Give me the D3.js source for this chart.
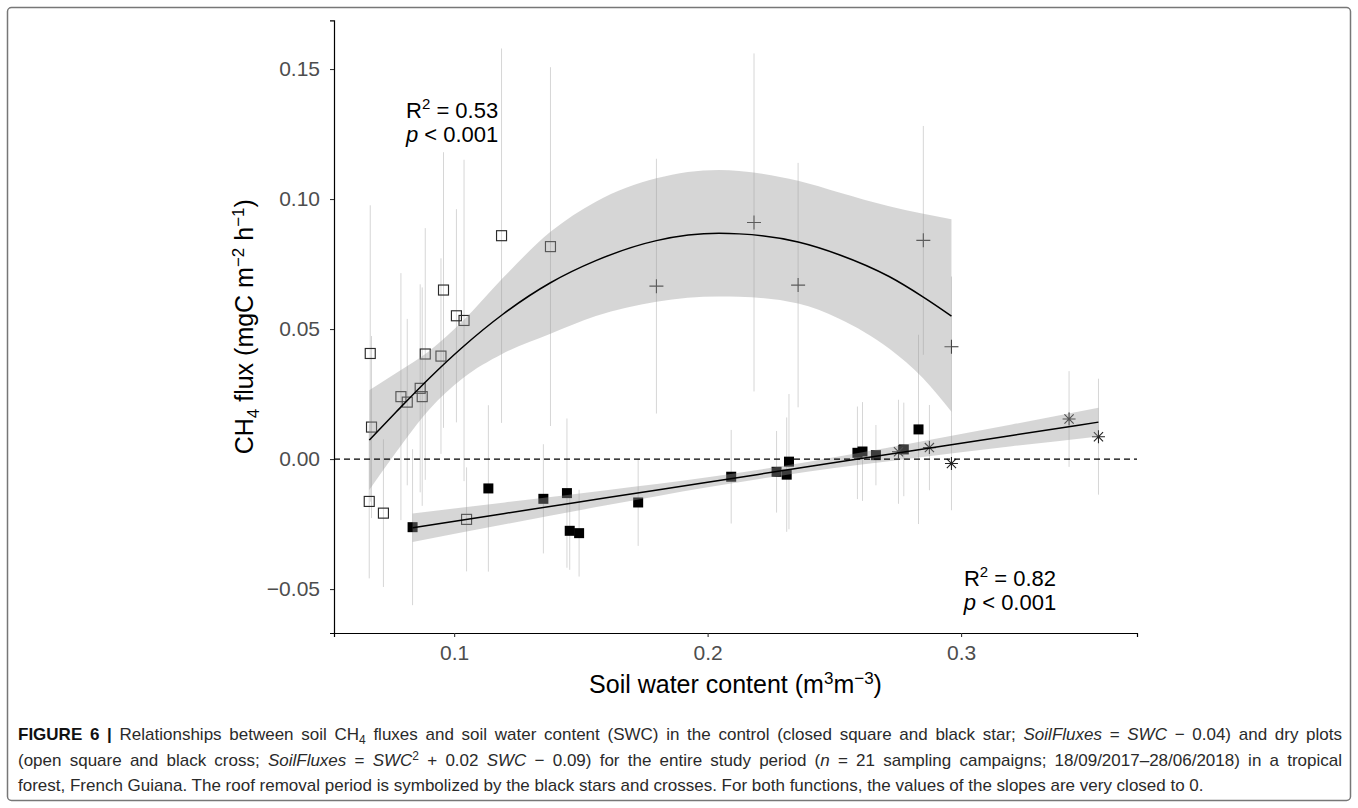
<!DOCTYPE html>
<html><head><meta charset="utf-8">
<script src="https://cdn.jsdelivr.net/npm/d3@7"></script>
<style>
html,body{margin:0;padding:0;background:#fff;}
svg{display:block;}
</style>
</head><body>
<svg id="chart" width="1358" height="808"></svg>
<script>
// ---------- DATA ----------
// Dry plots, before roof removal (open squares)
const dryOpenSWC  = [0.0669,0.0886,0.0948,0.0958,0.1009,0.1039,0.1187,0.1380,0.0866,0.0790,0.0815,0.0874,0.0674,0.0665,0.0721,0.1049];
const dryOpenFlux = [0.0406,0.0404,0.0396,0.0650,0.0551,0.0533,0.0859,0.0817,0.0272,0.0240,0.0219,0.0240,0.0123,-0.0163,-0.0208,-0.0232];
const dryOpenSE   = [0.0570,0.0484,0.0376,0.0530,0.0410,0.0618,0.0720,0.0690,0.0400,0.0475,0.0320,0.0420,0.0350,0.0296,0.0284,0.0200];
// Dry plots, roof removal period (crosses)
const dryCrossSWC  = [0.1798,0.2183,0.2357,0.2851,0.2962];
const dryCrossFlux = [0.0665,0.0910,0.0669,0.0841,0.0432];
const dryCrossSE   = [0.0490,0.0650,0.0470,0.0440,0.0270];
// Control plots, before roof removal (closed squares)
const ctrlSqSWC  = [0.0836,0.1135,0.1352,0.1445,0.1456,0.1493,0.1726,0.2093,0.2272,0.2312,0.2321,0.2591,0.2611,0.2664,0.2774,0.2832];
const ctrlSqFlux = [-0.0262,-0.0113,-0.0153,-0.0131,-0.0276,-0.0285,-0.0167,-0.0068,-0.0049,-0.0060,-0.0010,0.0024,0.0029,0.0015,0.0037,0.0114];
const ctrlSqSE   = [0.0300,0.0320,0.0210,0.0287,0.0150,0.0167,0.0167,0.0180,0.0157,0.0220,0.0260,0.0178,0.0190,0.0116,0.0180,0.0364];
// Control plots, roof removal period (stars)
const ctrlStarSWC  = [0.2753,0.2875,0.2962,0.3426,0.3542];
const ctrlStarFlux = [0.0028,0.0044,-0.0017,0.0154,0.0086];
const ctrlStarSE   = [0.0200,0.0164,0.0180,0.0184,0.0223];
// Fitted curves and confidence bands
const dryFitSWC  = [0.0665,0.077,0.0901,0.1033,0.1191,0.138,0.1559,0.1798,0.2045,0.2124,0.2357,0.2519,0.2716,0.2851,0.2962];
const dryFitFlux = [0.0073,0.0180,0.0310,0.0430,0.0556,0.0678,0.0763,0.0840,0.0868,0.0866,0.0835,0.0786,0.0702,0.0623,0.0550];
const dryFitLo   = [-0.0119,0.0025,0.0190,0.0310,0.0405,0.0482,0.0550,0.0605,0.0625,0.0624,0.0598,0.0540,0.0425,0.0310,0.0182];
const dryFitHi   = [0.0265,0.0330,0.0415,0.0530,0.0695,0.0874,0.0990,0.1080,0.1112,0.1108,0.1070,0.1025,0.0972,0.0943,0.0922];
const ctrlFitSWC  = [0.0836,0.12,0.16,0.20,0.24,0.28,0.32,0.3542];
const ctrlFitFlux = [-0.0264,-0.0209,-0.0149,-0.0089,-0.0029,0.0031,0.0091,0.0142];
const ctrlFitLo   = [-0.0319,-0.0251,-0.0178,-0.0108,-0.0048,0.0002,0.0049,0.0087];
const ctrlFitHi   = [-0.0209,-0.0167,-0.0120,-0.0070,-0.0010,0.0060,0.0133,0.0197];
// Axes
const xTicks = [0.1,0.2,0.3];
const xTickLabels = ["0.1","0.2","0.3"];
const yTicks = [-0.05,0,0.05,0.10,0.15];
const yTickLabels = ["\u22120.05","0.00","0.05","0.10","0.15"];
const xDomain = [0.0526,0.3694];
const yDomain = [-0.0669,0.1687];
// Annotations
const annLabels = [["0.53","0.001"],["0.82","0.001"]];
const annSWC = [0.0992,0.3193];
const annFluxR = [0.1312,-0.0488];
const annFluxP = [0.1220,-0.0580];

// ---------- DRAWING ----------
const FONT = "'Liberation Sans', Arial, Helvetica, sans-serif";
const svg = d3.select("#chart");
svg.append("rect").attr("x",7.5).attr("y",7.5).attr("width",1343).attr("height",793)
  .attr("rx",4).attr("fill","none").attr("stroke","#777").attr("stroke-width",1.5);

const x = d3.scaleLinear().domain(xDomain).range([334,1137]);
const y = d3.scaleLinear().domain(yDomain).range([633,20.4]);

const zip = (xs,ys,ss)=>xs.map((v,i)=>({x:v,y:ys[i],se:ss?ss[i]:0}));
const dryOpen = zip(dryOpenSWC,dryOpenFlux,dryOpenSE);
const dryCross = zip(dryCrossSWC,dryCrossFlux,dryCrossSE);
const ctrlSq = zip(ctrlSqSWC,ctrlSqFlux,ctrlSqSE);
const ctrlStar = zip(ctrlStarSWC,ctrlStarFlux,ctrlStarSE);
const allPts = [...dryOpen,...dryCross,...ctrlSq,...ctrlStar];

// error bars
svg.append("g").selectAll("line").data(allPts).join("line")
  .attr("x1",d=>x(d.x)).attr("x2",d=>x(d.x))
  .attr("y1",d=>y(d.y-d.se)).attr("y2",d=>y(d.y+d.se))
  .attr("stroke","#d6d6d6").attr("stroke-width",1);

// points
const gp = svg.append("g");
gp.selectAll("rect.open").data(dryOpen).join("rect").attr("class","open")
  .attr("x",d=>x(d.x)-5).attr("y",d=>y(d.y)-5).attr("width",10).attr("height",10)
  .attr("fill","none").attr("stroke","#2a2a2a").attr("stroke-width",1.15);
gp.selectAll("rect.closed").data(ctrlSq).join("rect").attr("class","closed")
  .attr("x",d=>x(d.x)-5).attr("y",d=>y(d.y)-5).attr("width",10).attr("height",10)
  .attr("fill","#000");
gp.selectAll("path.cross").data(dryCross).join("path").attr("class","cross")
  .attr("transform",d=>`translate(${x(d.x)},${y(d.y)})`)
  .attr("d","M-7,0H7M0,-7V7").attr("stroke","#333").attr("stroke-width",1.1).attr("fill","none");
gp.selectAll("path.star").data(ctrlStar).join("path").attr("class","star")
  .attr("transform",d=>`translate(${x(d.x)},${y(d.y)})`)
  .attr("d","M-6.5,0H6.5M0,-6.5V6.5M-4.6,-4.6L4.6,4.6M-4.6,4.6L4.6,-4.6")
  .attr("stroke","#222").attr("stroke-width",1.1).attr("fill","none");

// bands & fits
function fitData(xs,f,lo,hi){return xs.map((v,i)=>({x:v,f:f[i],lo:lo[i],hi:hi[i]}));}
const dryFit = fitData(dryFitSWC,dryFitFlux,dryFitLo,dryFitHi);
const ctrlFit = fitData(ctrlFitSWC,ctrlFitFlux,ctrlFitLo,ctrlFitHi);
const area = d3.area().x(d=>x(d.x)).y0(d=>y(d.lo)).y1(d=>y(d.hi)).curve(d3.curveMonotoneX);
const line = d3.line().x(d=>x(d.x)).y(d=>y(d.f)).curve(d3.curveMonotoneX);
[dryFit,ctrlFit].forEach(fd=>{
  svg.append("path").datum(fd).attr("d",area).attr("fill","#999").attr("fill-opacity",0.4);
});
[dryFit,ctrlFit].forEach(fd=>{
  svg.append("path").datum(fd).attr("d",line).attr("fill","none").attr("stroke","#000").attr("stroke-width",1.5);
});

// zero line
svg.append("line").attr("x1",x(xDomain[0])).attr("x2",x(xDomain[1]))
  .attr("y1",y(0)).attr("y2",y(0))
  .attr("stroke","#000").attr("stroke-width",1.3).attr("stroke-dasharray","6,4");

// axes
const gx = svg.append("g").attr("transform",`translate(0,${y(yDomain[0])})`)
  .call(d3.axisBottom(x).tickValues(xTicks).tickFormat((d,i)=>xTickLabels[i]).tickSizeOuter(0).tickSize(4).tickPadding(8));
const gy = svg.append("g").attr("transform",`translate(${x(xDomain[0])},0)`)
  .call(d3.axisLeft(y).tickValues(yTicks).tickFormat((d,i)=>yTickLabels[i]).tickSizeOuter(0).tickSize(4).tickPadding(10));
[gx,gy].forEach(g=>{
  g.attr("font-family",FONT).attr("font-size",21);
  g.select(".domain").attr("stroke","#000").attr("stroke-width",1.2);
  g.selectAll(".tick line").attr("stroke","#333").attr("stroke-width",1.1);
  g.selectAll(".tick text").attr("fill","#4d4d4d");
});

// axis titles
const xt = svg.append("text").attr("x",(x.range()[0]+x.range()[1])/2).attr("y",693)
  .attr("text-anchor","middle").attr("font-family",FONT).attr("font-size",25).attr("fill","#000");
xt.append("tspan").text("Soil water content (m");
xt.append("tspan").attr("dy",-9).attr("font-size",17).text("3");
xt.append("tspan").attr("dy",9).text("m");
xt.append("tspan").attr("dy",-9).attr("font-size",17).text("\u22123");
xt.append("tspan").attr("dy",9).text(")");

const cy = (y.range()[0]+y.range()[1])/2;
const yt = svg.append("text").attr("transform",`translate(253,${cy}) rotate(-90)`)
  .attr("text-anchor","middle").attr("font-family",FONT).attr("font-size",25).attr("fill","#000");
yt.append("tspan").text("CH");
yt.append("tspan").attr("dy",6).attr("font-size",17).text("4");
yt.append("tspan").attr("dy",-6).text(" flux (mgC m");
yt.append("tspan").attr("dy",-9).attr("font-size",17).text("\u22122");
yt.append("tspan").attr("dy",9).text(" h");
yt.append("tspan").attr("dy",-9).attr("font-size",17).text("\u22121");
yt.append("tspan").attr("dy",9).text(")");

// annotations
annLabels.forEach((lab,i)=>{
  const cx = x(annSWC[i]);
  const t1 = svg.append("text").attr("x",cx).attr("y",y(annFluxR[i]))
    .attr("text-anchor","middle").attr("font-family",FONT).attr("font-size",22).attr("fill","#000");
  t1.append("tspan").text("R");
  t1.append("tspan").attr("dy",-9).attr("font-size",15).text("2");
  t1.append("tspan").attr("dy",9).text(" = " + lab[0]);
  const t2 = svg.append("text").attr("x",cx).attr("y",y(annFluxP[i]))
    .attr("text-anchor","middle").attr("font-family",FONT).attr("font-size",22).attr("fill","#000");
  t2.append("tspan").attr("font-style","italic").text("p");
  t2.append("tspan").text(" < " + lab[1]);
});

// caption
const captionLines = [
 [{t:"FIGURE 6 |",b:1},{t:" Relationships between soil CH"},{t:"4",sub:1},{t:" fluxes and soil water content (SWC) in the control (closed square and black star; "},{t:"SoilFluxes",i:1},{t:" = "},{t:"SWC",i:1},{t:" \u2212 0.04) and dry plots"}],
 [{t:"(open square and black cross; "},{t:"SoilFluxes",i:1},{t:" = "},{t:"SWC",i:1},{t:"2",sup:1},{t:" + 0.02 "},{t:"SWC",i:1},{t:" \u2212 0.09) for the entire study period ("},{t:"n",i:1},{t:" = 21 sampling campaigns; 18/09/2017\u201328/06/2018) in a tropical"}],
 [{t:"forest, French Guiana. The roof removal period is symbolized by the black stars and crosses. For both functions, the values of the slopes are very closed to 0."}]
];
const capX = 18, capRight = 1342, capBase = [740,765.5,791], capSize = 17;
captionLines.forEach((segs,li)=>{
  const t = svg.append("text").attr("x",capX).attr("y",capBase[li])
    .attr("font-family",FONT).attr("font-size",capSize).attr("fill","#2a2a2a");
  let shift = 0;
  segs.forEach(s=>{
    const ts = t.append("tspan").text(s.t);
    let target = 0;
    if(s.sub){target=4;ts.attr("font-size",12);}
    if(s.sup){target=-6;ts.attr("font-size",12);}
    if(target!==shift){ts.attr("dy",target-shift); shift=target;}
    if(s.b) ts.attr("font-weight","bold").attr("fill","#111");
    if(s.i) ts.attr("font-style","italic");
  });
  if(li<2){
    const w = t.node().getComputedTextLength();
    const full = segs.map(s=>s.t).join("");
    const nsp = (full.match(/ /g)||[]).length;
    if(nsp>0 && w < capRight-capX) t.attr("word-spacing",((capRight-capX)-w)/nsp);
  }
});
</script>
</body></html>
